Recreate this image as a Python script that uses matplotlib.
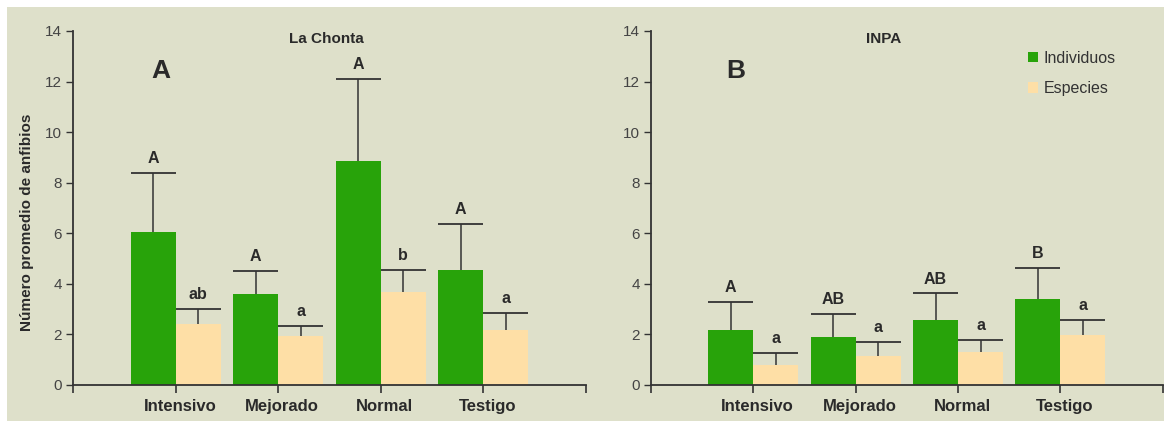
import matplotlib
matplotlib.use("Agg")
import matplotlib.pyplot as plt
from matplotlib.patches import Rectangle
from matplotlib.transforms import ScaledTranslation
import numpy as np

plt.rcParams['font.family'] = ['Liberation Sans', 'DejaVu Sans']

categories = ["Intensivo", "Mejorado", "Normal", "Testigo"]
series_names = ["Individuos", "Especies"]

# La Chonta (panel A)
chonta_ind = [6.05, 3.59, 8.87, 4.56]
chonta_ind_err = [2.34, 0.91, 3.22, 1.81]
chonta_esp = [2.41, 1.93, 3.67, 2.17]
chonta_esp_err = [0.59, 0.41, 0.87, 0.69]
chonta_ind_letters = ["A", "A", "A", "A"]
chonta_esp_letters = ["ab", "a", "b", "a"]

# INPA (panel B)
inpa_ind = [2.17, 1.89, 2.57, 3.39]
inpa_ind_err = [1.11, 0.91, 1.05, 1.25]
inpa_esp = [0.80, 1.16, 1.32, 1.97]
inpa_esp_err = [0.47, 0.54, 0.46, 0.60]
inpa_ind_letters = ["A", "AB", "AB", "B"]
inpa_esp_letters = ["a", "a", "a", "a"]

yticks = [0, 2, 4, 6, 8, 10, 12, 14]

GREEN = "#28a30a"
PEACH = "#fedfa6"
BG = "#dee0ca"
DARK = "#2a2a2a"
W, H = 1164, 421

fig = plt.figure(figsize=(W / 100, H / 100), dpi=100)
fig.patch.set_facecolor("white")
fig.patches.append(Rectangle((7 / W, 0), 1 - 7 / W, 1 - 7 / H,
                             transform=fig.transFigure, facecolor=BG,
                             edgecolor="none", zorder=-10))

ax_bottom = (H - 385) / H
ax_height = (385 - 31) / H
axA = fig.add_axes([73.3 / W, ax_bottom, 512.4 / W, ax_height])
axB = fig.add_axes([651 / W, ax_bottom, 511.7 / W, ax_height])

bw = 0.44
x = np.arange(1, len(categories) + 1)


def draw(ax, ind, ind_err, esp, esp_err, ind_let, esp_let, title, big, title_x, big_x):
    ax.set_facecolor("none")
    b1 = ax.bar(x - bw / 2, ind, bw, color=GREEN, label=series_names[0], zorder=2)
    b2 = ax.bar(x + bw / 2, esp, bw, color=PEACH, label=series_names[1], zorder=2)
    for xs, vals, errs, lets in ((x - bw / 2, ind, ind_err, ind_let),
                                 (x + bw / 2, esp, esp_err, esp_let)):
        vals = np.asarray(vals)
        tops = vals + np.asarray(errs)
        ax.vlines(xs, vals, tops, color="#333333", linewidth=1.1, zorder=3)
        ax.hlines(tops, xs - bw / 2, xs + bw / 2, color="#333333",
                  linewidth=1.3, zorder=3)
        for xi, tp, t in zip(xs, tops, lets):
            ax.annotate(t, (xi, tp), xytext=(0, 5), textcoords="offset points",
                        ha="center", va="bottom", fontsize=11.5,
                        fontweight="bold", color=DARK)
    ax.set_xlim(0, 5)
    ax.set_ylim(0, 14)
    ax.set_yticks(yticks)
    ax.set_yticklabels([str(v) for v in yticks], fontsize=11, color="#444444")
    ax.set_xticks([0, 1, 2, 3, 4, 5])
    ax.set_xticklabels([""] + categories + [""], fontsize=12,
                       fontweight="bold", color=DARK)
    ax.tick_params(axis="y", length=5, width=1, color="#333333", pad=3)
    ax.tick_params(axis="x", length=6, width=1.2, color="#333333", pad=4)
    for s in ("top", "right"):
        ax.spines[s].set_visible(False)
    for s in ("left", "bottom"):
        ax.spines[s].set_color("#333333")
        ax.spines[s].set_linewidth(1.3)
    ax.text(title_x, 13.7, title, ha="center", va="center", fontsize=11,
            fontweight="bold", color=DARK)
    ax.text(big_x, 12.4, big, ha="center", va="center", fontsize=19,
            fontweight="bold", color=DARK)
    for lab in ax.get_xticklabels():
        lab.set_transform(lab.get_transform() +
                          ScaledTranslation(4 / 100, 0, fig.dpi_scale_trans))
    return b1, b2


draw(axA, chonta_ind, chonta_ind_err, chonta_esp, chonta_esp_err,
     chonta_ind_letters, chonta_esp_letters, "La Chonta", "A", 2.47, 0.85)
h1, h2 = draw(axB, inpa_ind, inpa_ind_err, inpa_esp, inpa_esp_err,
              inpa_ind_letters, inpa_esp_letters, "INPA", "B", 2.27, 0.83)

leg = axB.legend(handles=[h1, h2], labels=series_names, loc="upper left",
                 bbox_to_anchor=(1028 / W, (H - 51) / H),
                 bbox_transform=fig.transFigure, frameon=False,
                 fontsize=11.5, handlelength=0.6, handleheight=0.6,
                 handletextpad=0.4, labelspacing=0.95, borderpad=0,
                 borderaxespad=0)
for t in leg.get_texts():
    t.set_color("#333333")

fig.text(27 / W, (H - 222) / H, "Número promedio de anfibios", rotation=90,
         ha="center", va="center", fontsize=11, fontweight="bold", color=DARK)

fig.savefig("out.png", dpi=100)
